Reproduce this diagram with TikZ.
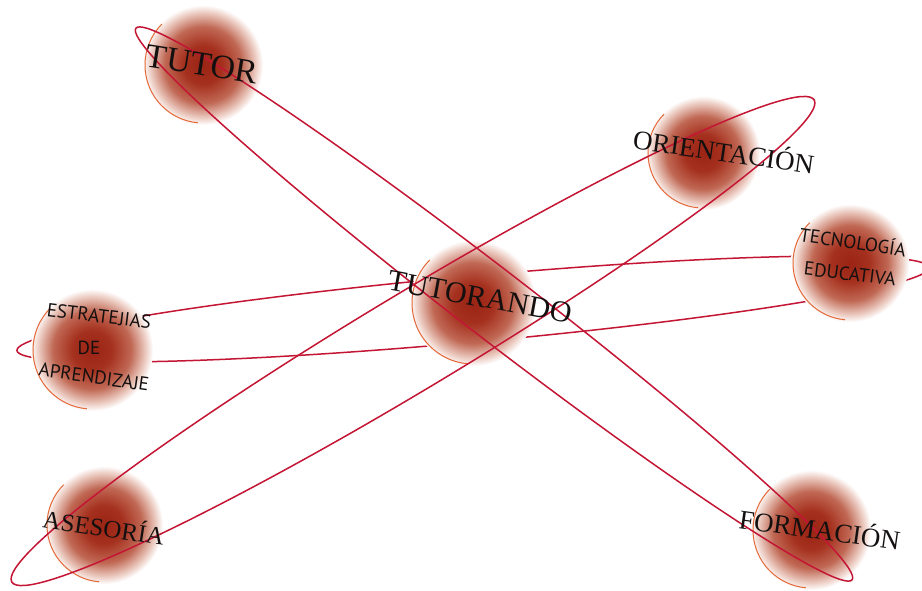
\documentclass[tikz,border=0pt]{standalone}
\usepackage{fontspec}
\newfontfamily\trj{Liberation Serif}
\newfontfamily\myr{PT Sans}
\definecolor{sphdark}{RGB}{155,36,20}
\definecolor{sphdk2}{RGB}{165,48,30}
\definecolor{sphmid}{RGB}{192,104,84}
\definecolor{sphlight}{RGB}{236,204,194}
\definecolor{ringcol}{RGB}{196,22,52}
\definecolor{arccol}{RGB}{228,104,56}
\definecolor{txtcol}{RGB}{20,16,16}
\pgfdeclareradialshading{sph}{\pgfpoint{0bp}{0bp}}{color(0bp)=(sphdark); color(8bp)=(sphdk2); color(16bp)=(sphmid); color(22bp)=(sphlight); color(25bp)=(white); color(50bp)=(white)}
\begin{document}
\begin{tikzpicture}[x=1pt,y=-1pt,
  sphere/.style={circle, minimum size=#1, inner sep=0pt, shade, shading=sph},
  orbit/.style={draw=ringcol, line width=1.5pt},
  arcline/.style={draw=arccol, line width=1pt},
  lblserif/.style={font=\trj\fontsize{#1}{#1}\selectfont, text=txtcol, inner sep=0pt},
  lblsans/.style={font=\myr\fontsize{#1}{#1}\selectfont, text=txtcol, inner sep=0pt}]
\useasboundingbox (0,0) rectangle (922,590);
\fill[white] (0,0) rectangle (922,590);
% horizontal orbit (behind the spheres)
\draw[orbit, rotate around={5.2:(473,309)}] (473,309) ellipse [x radius=458, y radius=33];
% spheres
\node[sphere=120pt] (tutor) at (203,65) {};
\node[sphere=114pt] (orient) at (703,153) {};
\node[sphere=118pt] (tecno) at (850,263) {};
\node[sphere=126pt] (tutorando) at (473,303) {};
\node[sphere=122pt] (estrat) at (92,350) {};
\node[sphere=118pt] (asesoria) at (104,525) {};
\node[sphere=120pt] (formacion) at (811,530) {};
% orange rims
\foreach \n/\r in {tutor/58, orient/55, tecno/57, tutorando/61, estrat/59, asesoria/57, formacion/58}{
  \draw[arcline] (\n.center) ++(-135:\r) arc[start angle=-135, end angle=-265, radius=\r];
}
% diagonal orbits (over the spheres)
\draw[orbit, rotate around={-37.6:(494,304)}] (494,304) ellipse [x radius=452, y radius=34];
\draw[orbit, rotate around={31.0:(413,341)}] (413,341) ellipse [x radius=468, y radius=48];
% labels
\node[lblserif=34, rotate=-9] (ltutor) at (202,64) {TUTOR};
\node[lblserif=27, rotate=-8] (lorient) at (724,150) {ORIENTACIÓN};
\node[lblserif=30, rotate=-10.5] (ltutorando) at (480,297) {TUTORANDO};
\node[lblserif=25, rotate=-8.5] (lasesoria) at (104,526) {ASESORÍA};
\node[lblserif=27, rotate=-8] (lformacion) at (820,528) {FORMACIÓN};
\node[lblsans=19, rotate=-7] (le1) at (99,316) {ESTRATEJIAS};
\node[lblsans=19] (le2) at (89,348) {DE};
\node[lblsans=19, rotate=-8] (le3) at (94,377) {APRENDIZAJE};
\node[lblsans=19, rotate=-8.5] (lt1) at (853,241) {TECNOLOGÍA};
\node[lblsans=19, rotate=-7] (lt2) at (850,274) {EDUCATIVA};
\end{tikzpicture}
\end{document}
